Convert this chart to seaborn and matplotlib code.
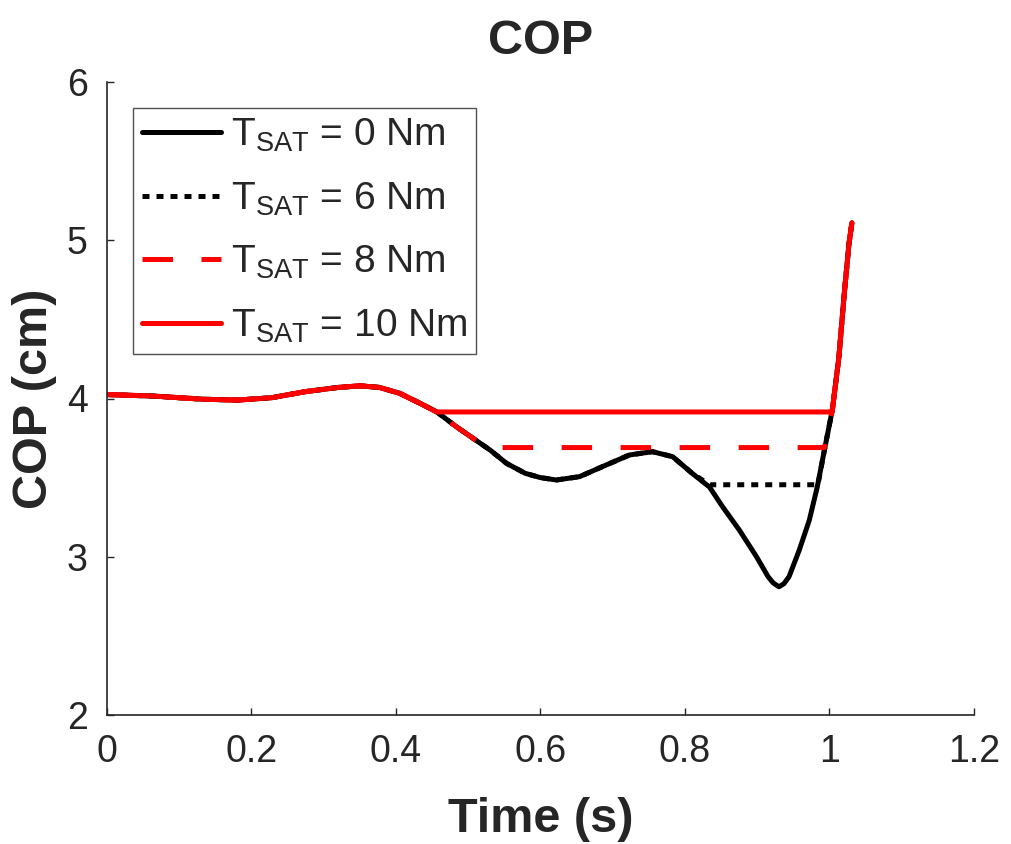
import numpy as np
import pandas as pd
import matplotlib
matplotlib.use("Agg")
import matplotlib.pyplot as plt
import seaborn as sns

# ---------------- data ----------------
time_base = [0.000, 0.033, 0.066, 0.100, 0.135, 0.181, 0.228, 0.274, 0.320,
             0.350, 0.377, 0.405, 0.433, 0.456, 0.484, 0.510, 0.530, 0.553,
             0.579, 0.600, 0.622, 0.654, 0.686, 0.723, 0.755, 0.783, 0.810,
             0.834, 0.852, 0.875, 0.899, 0.915, 0.922, 0.930, 0.937, 0.944,
             0.958, 0.972, 0.983, 0.993, 1.004, 1.013, 1.020, 1.027, 1.031]
cop_base = [4.025, 4.020, 4.015, 4.005, 3.995, 3.990, 4.005, 4.043, 4.070,
            4.080, 4.070, 4.033, 3.970, 3.917, 3.820, 3.738, 3.675, 3.590,
            3.527, 3.500, 3.485, 3.506, 3.570, 3.643, 3.664, 3.632, 3.527,
            3.440, 3.316, 3.170, 3.000, 2.874, 2.835, 2.810, 2.830, 2.874,
            3.040, 3.230, 3.440, 3.675, 3.930, 4.260, 4.640, 4.980, 5.110]

labels = ["0", "6", "8", "10"]            # T_SAT values (Nm)
hold_start = [None, 0.834, 0.530, 0.456]  # time where COP saturates
hold_end = [None, 0.984, 0.993, 1.003]    # time where it rejoins
hold_level = [None, 3.455, 3.690, 3.915]  # saturated COP level (cm)

colors = ["black", "black", "red", "red"]
styles = ["solid", "dotted", "dashed", "solid"]

# ---------------- figure ----------------
sns.set_style("white")
plt.rcParams["font.family"] = ["Liberation Sans", "DejaVu Sans"]
plt.rcParams["mathtext.fontset"] = "custom"
plt.rcParams["mathtext.rm"] = "Liberation Sans"
plt.rcParams["mathtext.it"] = "Liberation Sans:italic"
plt.rcParams["mathtext.bf"] = "Liberation Sans:bold"

fig = plt.figure(figsize=(10.12, 8.44), dpi=100)
ax = fig.add_axes([107 / 1012, 1 - 715 / 844, (974 - 107) / 1012, (715 - 82) / 844])

tb = np.array(time_base)
cb = np.array(cop_base)
handles = []
for lab, hs, he, hl, col, sty in zip(labels, hold_start, hold_end, hold_level, colors, styles):
    if hs is None:
        t, y = tb, cb
    else:
        before = tb < hs
        after = tb > he
        t = np.concatenate([tb[before], [hs, he], tb[after]])
        y = np.concatenate([cb[before], [hl, hl], cb[after]])
    df = pd.DataFrame({"Time": t, "COP": y})
    sns.lineplot(data=df, x="Time", y="COP", ax=ax, color=col, lw=3.6,
                 sort=False, estimator=None, legend=False)
    line = ax.lines[-1]
    line.set_solid_joinstyle("round")
    if sty == "dotted":
        line.set_dashes((1.4, 1.4))
    elif sty == "dashed":
        line.set_dashes((6.1, 5.7))
    line.set_label(r"T$_{\mathrm{SAT}}$ = " + lab + " Nm")
    handles.append(line)

ax.set_xlim(0, 1.2)
ax.set_ylim(2, 6)
ax.set_xticks([0, 0.2, 0.4, 0.6, 0.8, 1.0, 1.2])
ax.set_xticklabels(["0", "0.2", "0.4", "0.6", "0.8", "1", "1.2"])
ax.set_yticks([2, 3, 4, 5, 6])
ax.set_yticklabels(["2", "3", "4", "5", "6"])

for s in ["top", "right"]:
    ax.spines[s].set_visible(False)
for s in ["left", "bottom"]:
    ax.spines[s].set_color("#262626")
    ax.spines[s].set_linewidth(1.2)

ax.tick_params(axis="both", direction="in", length=5, width=1.0,
               colors="#262626", labelsize=27, pad=14,
               bottom=True, left=True, top=False, right=False)

ax.set_title("COP", fontsize=35, fontweight="bold", pad=20)
ax.set_xlabel("Time (s)", fontsize=35, fontweight="bold", labelpad=19)
ax.set_ylabel("COP (cm)", fontsize=35, fontweight="bold", labelpad=7)

leg = ax.legend(handles=handles, loc="upper left",
                bbox_to_anchor=(133 / 1012, 1 - 108 / 844),
                bbox_transform=fig.transFigure, borderaxespad=0,
                fontsize=28, frameon=True, fancybox=False,
                handlelength=2.05, handletextpad=0.25, labelspacing=0.68,
                borderpad=0.22)
leg.get_frame().set_edgecolor("#262626")
leg.get_frame().set_linewidth(1.0)

fig.savefig("out.png", dpi=100)
